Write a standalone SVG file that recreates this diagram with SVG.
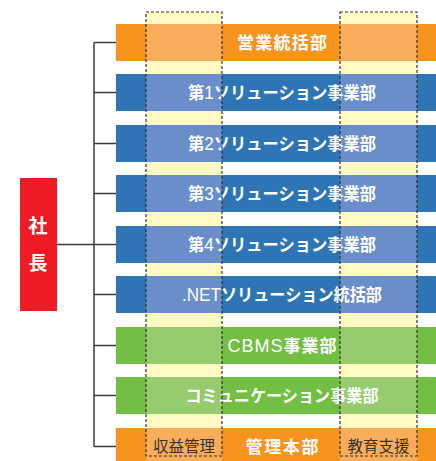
<svg xmlns="http://www.w3.org/2000/svg" width="436" height="461" viewBox="0 0 436 461">
<style>
.col{fill:#FFF9C3}
.colEdge{fill:none;stroke:#333;stroke-width:1.2;stroke-dasharray:3 2}
.org{fill:#F7941E}.orgL{fill:#F9AD5A}
.blu{fill:#2E75B6}.bluL{fill:#6A8EC9}
.grn{fill:#72BF44}.grnL{fill:#96CB6E}
.lbl{font-family:"Noto Sans CJK JP","Liberation Sans",sans-serif;font-size:17px;font-weight:bold;fill:#fff;text-anchor:middle}
.lat{font-family:"Liberation Sans","Noto Sans CJK JP",sans-serif;font-weight:normal;font-size:18px}
.sub{font-family:"Noto Sans CJK JP","Liberation Sans",sans-serif;font-size:15.5px;fill:#333;text-anchor:middle}
.pres{font-family:"Noto Sans CJK JP",sans-serif;font-size:19px;font-weight:bold;fill:#fff;text-anchor:middle}
.ln{fill:none;stroke:#3a3a3a;stroke-width:1.5}
</style>
<rect x="0" y="0" width="436" height="461" fill="#fff"/>
<g id="columns-bg">
<rect class="col" x="146" y="12" width="76" height="444"/>
<rect class="col" x="340" y="12" width="77" height="444"/>
</g>
<g id="connectors">
<line class="ln" x1="94" y1="42.5" x2="94" y2="446.5"/>
<line class="ln" x1="57" y1="244.5" x2="94" y2="244.5"/>
<line class="ln" x1="94" y1="42.5" x2="116" y2="42.5"/>
<line class="ln" x1="94" y1="92.5" x2="116" y2="92.5"/>
<line class="ln" x1="94" y1="143.5" x2="116" y2="143.5"/>
<line class="ln" x1="94" y1="193.5" x2="116" y2="193.5"/>
<line class="ln" x1="94" y1="244.5" x2="116" y2="244.5"/>
<line class="ln" x1="94" y1="294.5" x2="116" y2="294.5"/>
<line class="ln" x1="94" y1="345.5" x2="116" y2="345.5"/>
<line class="ln" x1="94" y1="395.5" x2="116" y2="395.5"/>
<line class="ln" x1="94" y1="446.5" x2="116" y2="446.5"/>
</g>
<g id="president">
<rect x="20" y="178" width="37" height="133" fill="#ED1C24"/>
<text class="pres" x="38" y="233">社</text>
<text class="pres" x="38" y="270">長</text>
</g>
<g id="eigyo">
<rect class="org" x="116" y="24" width="320" height="37"/>
<rect class="orgL" x="146" y="24" width="76" height="37"/>
<rect class="orgL" x="340" y="24" width="77" height="37"/>
<text class="lbl" x="282" y="48.8" textLength="90" lengthAdjust="spacing">営業統括部</text>
</g>
<g id="sol1">
<rect class="blu" x="116" y="74" width="320" height="37"/>
<rect class="bluL" x="146" y="74" width="76" height="37"/>
<rect class="bluL" x="340" y="74" width="77" height="37"/>
<text class="lbl" x="282" y="98.8" textLength="188" lengthAdjust="spacingAndGlyphs">第<tspan class="lat">1</tspan>ソリューション事業部</text>
</g>
<g id="sol2">
<rect class="blu" x="116" y="125" width="320" height="37"/>
<rect class="bluL" x="146" y="125" width="76" height="37"/>
<rect class="bluL" x="340" y="125" width="77" height="37"/>
<text class="lbl" x="282" y="149.8" textLength="188" lengthAdjust="spacingAndGlyphs">第<tspan class="lat">2</tspan>ソリューション事業部</text>
</g>
<g id="sol3">
<rect class="blu" x="116" y="175" width="320" height="37"/>
<rect class="bluL" x="146" y="175" width="76" height="37"/>
<rect class="bluL" x="340" y="175" width="77" height="37"/>
<text class="lbl" x="282" y="199.8" textLength="188" lengthAdjust="spacingAndGlyphs">第<tspan class="lat">3</tspan>ソリューション事業部</text>
</g>
<g id="sol4">
<rect class="blu" x="116" y="226" width="320" height="37"/>
<rect class="bluL" x="146" y="226" width="76" height="37"/>
<rect class="bluL" x="340" y="226" width="77" height="37"/>
<text class="lbl" x="282" y="250.8" textLength="188" lengthAdjust="spacingAndGlyphs">第<tspan class="lat">4</tspan>ソリューション事業部</text>
</g>
<g id="dotnet">
<rect class="blu" x="116" y="276" width="320" height="37"/>
<rect class="bluL" x="146" y="276" width="76" height="37"/>
<rect class="bluL" x="340" y="276" width="77" height="37"/>
<text class="lbl" x="282" y="300.8" textLength="200" lengthAdjust="spacingAndGlyphs"><tspan class="lat">.NET</tspan>ソリューション統括部</text>
</g>
<g id="cbms">
<rect class="grn" x="116" y="327" width="320" height="37"/>
<rect class="grnL" x="146" y="327" width="76" height="37"/>
<rect class="grnL" x="340" y="327" width="77" height="37"/>
<text class="lbl" x="282" y="351.8" textLength="109" lengthAdjust="spacing"><tspan class="lat">CBMS</tspan>事業部</text>
</g>
<g id="comm">
<rect class="grn" x="116" y="377" width="320" height="37"/>
<rect class="grnL" x="146" y="377" width="76" height="37"/>
<rect class="grnL" x="340" y="377" width="77" height="37"/>
<text class="lbl" x="282" y="401.8" textLength="193" lengthAdjust="spacingAndGlyphs">コミュニケーション事業部</text>
</g>
<g id="kanri">
<rect class="org" x="116" y="428" width="320" height="37"/>
<rect class="orgL" x="146" y="428" width="76" height="37"/>
<rect class="orgL" x="340" y="428" width="77" height="37"/>
<text class="lbl" x="282" y="452.8" textLength="73" lengthAdjust="spacing">管理本部</text>
</g>
<g id="columns-edge">
<rect class="colEdge" x="146" y="12" width="76" height="444"/>
<rect class="colEdge" x="340" y="12" width="77" height="444"/>
</g>
<g id="shueki">
<text class="sub" x="184" y="452" textLength="62" lengthAdjust="spacing">収益管理</text>
</g>
<g id="kyoiku">
<text class="sub" x="378.5" y="452" textLength="62" lengthAdjust="spacing">教育支援</text>
</g>
</svg>
